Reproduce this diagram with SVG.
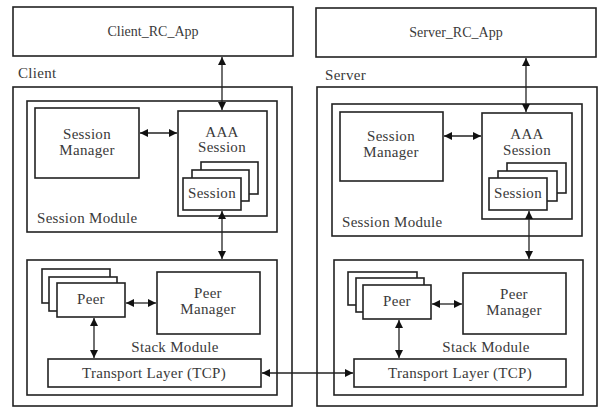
<svg xmlns="http://www.w3.org/2000/svg" width="599" height="407" viewBox="0 0 599 407">
<defs>
<marker id="ah" viewBox="0 0 10 10" refX="10" refY="5" markerWidth="8" markerHeight="8" markerUnits="userSpaceOnUse" orient="auto-start-reverse">
<path d="M0,0 L10,5 L0,10 z" fill="#111"/>
</marker>
<style>
rect{fill:#fff;stroke:#222;stroke-width:1.6}
text{font-family:"Liberation Serif","DejaVu Serif",serif;font-size:15px;letter-spacing:0.3px;fill:#3a3a3a}
.c{text-anchor:middle}
.t{font-size:14px;letter-spacing:0}
.cn line{stroke:#222;stroke-width:1.3;marker-start:url(#ah);marker-end:url(#ah)}
</style>
</defs>
<rect x="0" y="0" width="599" height="407" style="fill:#fff;stroke:none"/>

<g id="client_rc_app"><rect x="13" y="7" width="280" height="49"/><text class="c t" x="153" y="36">Client_RC_App</text></g>
<g id="server_rc_app"><rect x="316" y="8" width="280" height="49"/><text class="c t" x="456" y="37">Server_RC_App</text></g>

<g id="client"><text x="18" y="78">Client</text><rect x="13" y="87" width="279" height="319"/></g>
<g id="server"><text x="325" y="80">Server</text><rect x="317" y="87" width="280" height="319"/></g>

<g id="client_session_module"><rect x="27" y="101" width="250" height="131"/><text x="37" y="223">Session Module</text></g>
<g id="server_session_module"><rect x="332" y="104" width="250" height="132"/><text x="342" y="227">Session Module</text></g>

<g id="client_session_manager"><rect x="35" y="108" width="104" height="70"/><text class="c" x="87" y="139">Session</text><text class="c" x="87" y="155">Manager</text></g>
<g id="server_session_manager"><rect x="340" y="112" width="103" height="69"/><text class="c" x="391" y="141">Session</text><text class="c" x="391" y="157">Manager</text></g>

<g id="client_aaa"><rect x="178" y="111" width="89" height="105"/><text class="c" x="222" y="137">AAA</text><text class="c" x="222" y="152">Session</text></g>
<g id="server_aaa"><rect x="482" y="113" width="90" height="106"/><text class="c" x="527" y="139">AAA</text><text class="c" x="527" y="155">Session</text></g>

<g id="client_sessions"><rect x="201" y="162" width="57" height="32"/><rect x="192" y="170" width="57" height="31"/><rect x="183" y="178" width="58" height="32"/><text class="c" x="212" y="198">Session</text></g>
<g id="server_sessions"><rect x="507" y="163" width="59" height="30"/><rect x="498" y="171" width="59" height="30"/><rect x="489" y="178" width="58" height="32"/><text class="c" x="518" y="198">Session</text></g>

<g id="client_stack_module"><rect x="27" y="260" width="250" height="135"/><text class="c" x="175" y="352">Stack Module</text></g>
<g id="server_stack_module"><rect x="334" y="260" width="249" height="135"/><text class="c" x="486" y="352">Stack Module</text></g>

<g id="client_peers"><rect x="42" y="269" width="68" height="34"/><rect x="49" y="277" width="68" height="34"/><rect x="57" y="283" width="68" height="34"/><text class="c" x="91" y="304">Peer</text></g>
<g id="server_peers"><rect x="348" y="272" width="69" height="33"/><rect x="356" y="278" width="68" height="34"/><rect x="363" y="285" width="68" height="34"/><text class="c" x="397" y="306">Peer</text></g>

<g id="client_peer_manager"><rect x="157" y="272" width="103" height="62"/><text class="c" x="208" y="298">Peer</text><text class="c" x="208" y="314">Manager</text></g>
<g id="server_peer_manager"><rect x="463" y="273" width="103" height="61"/><text class="c" x="514" y="299">Peer</text><text class="c" x="514" y="315">Manager</text></g>

<g id="client_transport"><rect x="48" y="359" width="213" height="28"/><text class="c" x="154" y="378">Transport Layer (TCP)</text></g>
<g id="server_transport"><rect x="354" y="359" width="212" height="28"/><text class="c" x="460" y="378">Transport Layer (TCP)</text></g>

<g id="connectors" class="cn">
<line x1="222" y1="57" x2="222" y2="110"/>
<line x1="140" y1="133" x2="177" y2="133"/>
<line x1="222" y1="211" x2="222" y2="259"/>
<line x1="126" y1="303" x2="156" y2="303"/>
<line x1="94" y1="318" x2="94" y2="358"/>
<line x1="526" y1="58" x2="526" y2="112"/>
<line x1="444" y1="136" x2="481" y2="136"/>
<line x1="529" y1="211" x2="529" y2="259"/>
<line x1="432" y1="304" x2="462" y2="304"/>
<line x1="399" y1="320" x2="399" y2="358"/>
<line x1="262" y1="373" x2="353" y2="373"/>
</g>
</svg>
